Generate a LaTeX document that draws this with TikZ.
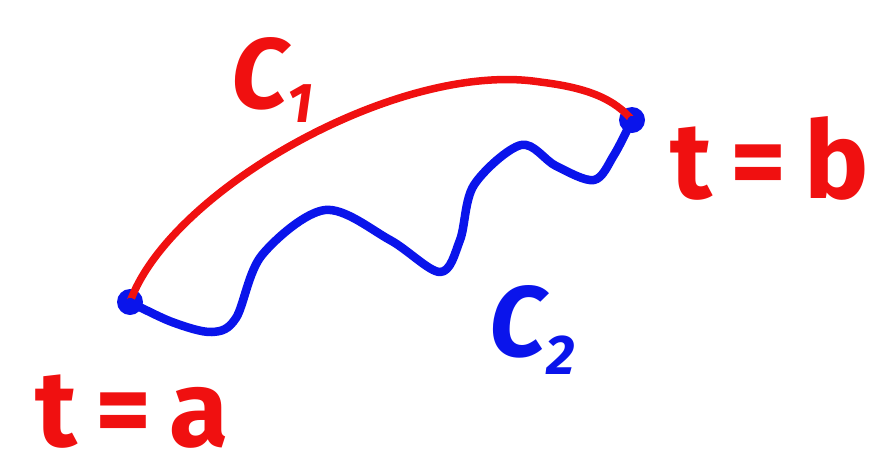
\documentclass[tikz,border=0pt]{standalone}
\usepackage{fontspec}
\setmainfont{Fira Sans}
\usetikzlibrary{positioning}

\definecolor{penred}{RGB}{240,16,16}
\definecolor{penblue}{RGB}{10,20,235}

\begin{document}
\begin{tikzpicture}[
    x=1pt, y=-1pt,
    redpen/.style={draw=penred, line width=7.5pt, line cap=round},
    bluepen/.style={draw=penblue, line width=8.5pt, line cap=round, line join=round},
    dotmark/.style={circle, fill=penblue, minimum size=26pt, inner sep=0pt},
    curvelabel/.style={font=\fontsize{100}{100}\selectfont\bfseries\itshape, inner sep=0pt},
    tlabel/.style={font=\fontsize{108}{108}\selectfont\bfseries, text=penred, inner sep=0pt}
]
    \useasboundingbox (0,0) rectangle (872,474);

    % end points
    \node[dotmark] (pa) at (130,302) {};
    \node[dotmark] (pb) at (632,120) {};

    % curve C1
    \draw[redpen] (pa.center) .. controls (170,190) and (400,60) .. (540,82)
        .. controls (590,88) and (615,100) .. (pb.center);

    % curve C2
    \draw[bluepen] plot[smooth, tension=0.55] coordinates {
        (pa.center) (172,322) (212,332) (236,318) (262,255) (325,210)
        (390,240) (440,272) (460,240) (474,185) (521,145) (556,166)
        (594,180) (614,155) (pb.center)};

    % labels
    \node[curvelabel, text=penred] (c1) at (272,80) {C\raisebox{-0.25ex}{\fontsize{56}{56}\selectfont 1}};
    \node[curvelabel, text=penblue] (c2) at (532,330) {C\raisebox{-0.35ex}{\fontsize{56}{56}\selectfont 2}};
    \node[tlabel] (ta) at (132,412) {t\,=\,a};
    \node[tlabel] (tb) at (770,158) {t\,=\,b};
\end{tikzpicture}
\end{document}
